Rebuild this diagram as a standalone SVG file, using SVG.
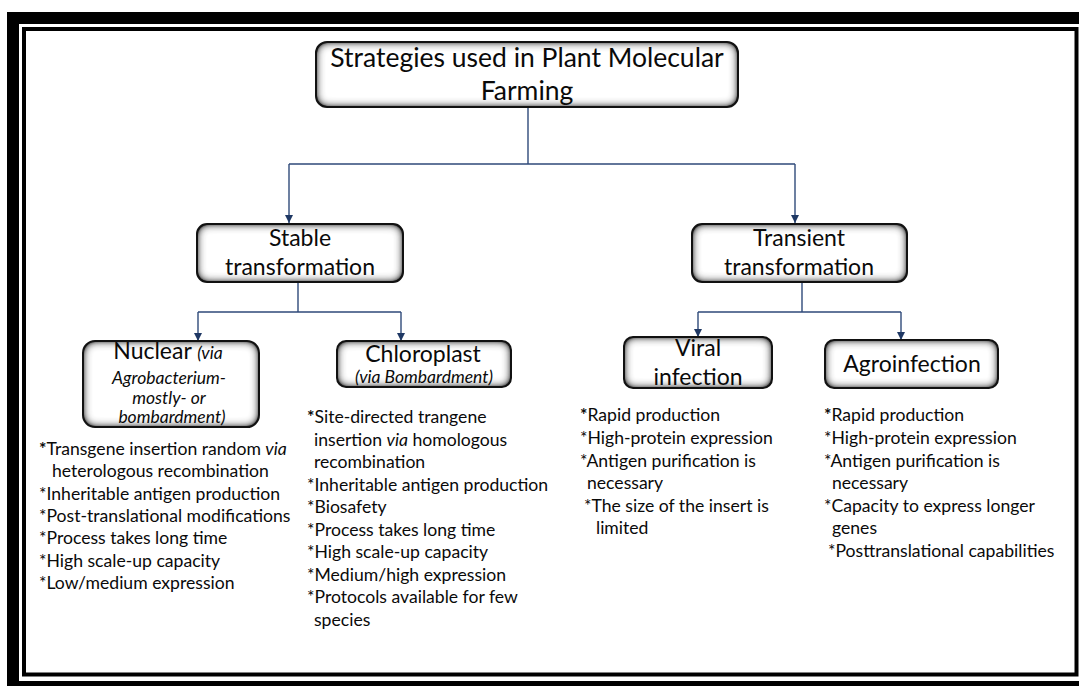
<svg xmlns="http://www.w3.org/2000/svg" width="1079" height="686" viewBox="0 0 1079 686">
<style>
text{font-family:Lato,"Liberation Sans",sans-serif;fill:#0a0a0a}
.t{font-size:26.5px;text-anchor:middle}
.l{font-size:23px;text-anchor:middle}
.i{font-style:italic;font-size:17.5px}
.li{font-size:17.6px}
.bx{fill:#fff;filter:url(#bev)}
.ol{fill:none;stroke:#111;stroke-width:2}
.cn{fill:none;stroke:#2f4a7a;stroke-width:1.4}
</style>
<defs>
<filter id="bev" x="-5%" y="-10%" width="110%" height="120%">
<feGaussianBlur in="SourceAlpha" stdDeviation="5" result="b"/>
<feComposite in="SourceAlpha" in2="b" operator="out" result="ring"/>
<feComponentTransfer in="ring" result="ring2"><feFuncA type="linear" slope="1.9"/></feComponentTransfer>
<feFlood flood-color="#303030"/>
<feComposite in2="ring2" operator="in" result="sh"/>
<feMerge><feMergeNode in="SourceGraphic"/><feMergeNode in="sh"/></feMerge>
</filter>
<marker id="ah" viewBox="0 0 10 10" refX="10" refY="5" markerWidth="8" markerHeight="8" markerUnits="userSpaceOnUse" orient="auto">
<path d="M0,0 L10,5 L0,10 Z" fill="#1f3864"/>
</marker>
</defs>
<rect width="1079" height="686" fill="#fff"/>
<g id="frame">
<rect x="13" y="18" width="1080" height="669" fill="none" stroke="#000" stroke-width="12"/>
<rect x="24" y="29" width="1052.5" height="645.5" fill="none" stroke="#000" stroke-width="4"/>
</g>
<g id="connectors">
<path class="cn" d="M528,107 V164 M289,164 H795"/>
<path class="cn" marker-end="url(#ah)" d="M289,164 V223"/>
<path class="cn" marker-end="url(#ah)" d="M795,164 V223"/>
<path class="cn" d="M298,282 V312 M198,312 H401"/>
<path class="cn" marker-end="url(#ah)" d="M198,312 V341"/>
<path class="cn" marker-end="url(#ah)" d="M401,312 V341"/>
<path class="cn" d="M802,282 V312 M698,312 H901"/>
<path class="cn" marker-end="url(#ah)" d="M698,312 V337"/>
<path class="cn" marker-end="url(#ah)" d="M901,312 V340"/>
</g>
<g id="title">
<rect class="bx" x="316" y="42" width="422" height="65" rx="11"/>
<rect class="ol" x="316" y="42" width="422" height="65" rx="11"/>
<text class="t" x="527" y="67">Strategies used in Plant Molecular</text>
<text class="t" x="527" y="100">Farming</text>
</g>
<g id="stable">
<rect class="bx" x="197" y="224" width="206" height="58" rx="10"/>
<rect class="ol" x="197" y="224" width="206" height="58" rx="10"/>
<text class="l" x="300" y="246">Stable</text>
<text class="l" x="300" y="275">transformation</text>
</g>
<g id="transient">
<rect class="bx" x="692" y="224" width="215" height="58" rx="10"/>
<rect class="ol" x="692" y="224" width="215" height="58" rx="10"/>
<text class="l" x="799" y="246">Transient</text>
<text class="l" x="799" y="275">transformation</text>
</g>
<g id="nuclear">
<rect class="bx" x="83" y="341" width="176" height="86" rx="12"/>
<rect class="ol" x="83" y="341" width="176" height="86" rx="12"/>
<text class="l" x="168" y="359">Nuclear <tspan class="i">(via</tspan></text>
<text class="i" text-anchor="middle" x="169" y="384">Agrobacterium-</text>
<text class="i" text-anchor="middle" x="169" y="404">mostly- or</text>
<text class="i" text-anchor="middle" x="172" y="423">bombardment)</text>
</g>
<g id="chloroplast">
<rect class="bx" x="337" y="341" width="174" height="46" rx="9"/>
<rect class="ol" x="337" y="341" width="174" height="46" rx="9"/>
<text class="l" x="423" y="362">Chloroplast</text>
<text class="i" text-anchor="middle" x="424" y="383">(via Bombardment)</text>
</g>
<g id="viral">
<rect class="bx" x="624" y="337" width="148" height="51" rx="9"/>
<rect class="ol" x="624" y="337" width="148" height="51" rx="9"/>
<text class="l" x="698" y="356">Viral</text>
<text class="l" x="698" y="385">infection</text>
</g>
<g id="agroinfection">
<rect class="bx" x="825" y="340" width="173" height="48" rx="9"/>
<rect class="ol" x="825" y="340" width="173" height="48" rx="9"/>
<text class="l" x="912" y="372">Agroinfection</text>
</g>
<g id="nuclear-list">
<text class="li">
<tspan x="39" y="455"><tspan font-weight="bold">*</tspan>Transgene insertion random <tspan font-style="italic">via</tspan></tspan>
<tspan x="52" y="477">heterologous recombination</tspan>
<tspan x="39" y="500">*Inheritable antigen production</tspan>
<tspan x="39" y="522">*Post-translational modifications</tspan>
<tspan x="39" y="544">*Process takes long time</tspan>
<tspan x="39" y="567">*High scale-up capacity</tspan>
<tspan x="39" y="589">*Low/medium expression</tspan>
</text>
</g>
<g id="chloroplast-list">
<text class="li">
<tspan x="307" y="423"><tspan font-weight="bold">*</tspan>Site-directed trangene</tspan>
<tspan x="314" y="446">insertion <tspan font-style="italic">via</tspan> homologous</tspan>
<tspan x="314" y="468">recombination</tspan>
<tspan x="307" y="491">*Inheritable antigen  production</tspan>
<tspan x="307" y="513">*Biosafety</tspan>
<tspan x="307" y="536">*Process takes long time</tspan>
<tspan x="307" y="558">*High scale-up capacity</tspan>
<tspan x="307" y="581">*Medium/high expression</tspan>
<tspan x="307" y="603">*Protocols available for few</tspan>
<tspan x="314" y="626">species</tspan>
</text>
</g>
<g id="viral-list">
<text class="li">
<tspan x="580" y="421"><tspan font-weight="bold">*</tspan>Rapid production</tspan>
<tspan x="580" y="444">*High-protein expression</tspan>
<tspan x="580" y="467">*Antigen purification is</tspan>
<tspan x="587" y="489">necessary</tspan>
<tspan x="584" y="512">*The size of the insert is</tspan>
<tspan x="596" y="534">limited</tspan>
</text>
</g>
<g id="agro-list">
<text class="li">
<tspan x="824" y="421"><tspan font-weight="bold">*</tspan>Rapid production</tspan>
<tspan x="824" y="444">*High-protein expression</tspan>
<tspan x="824" y="467">*Antigen purification is</tspan>
<tspan x="832" y="489">necessary</tspan>
<tspan x="824" y="512">*Capacity to express longer</tspan>
<tspan x="832" y="534">genes</tspan>
<tspan x="828" y="557">*Posttranslational capabilities</tspan>
</text>
</g>
</svg>
